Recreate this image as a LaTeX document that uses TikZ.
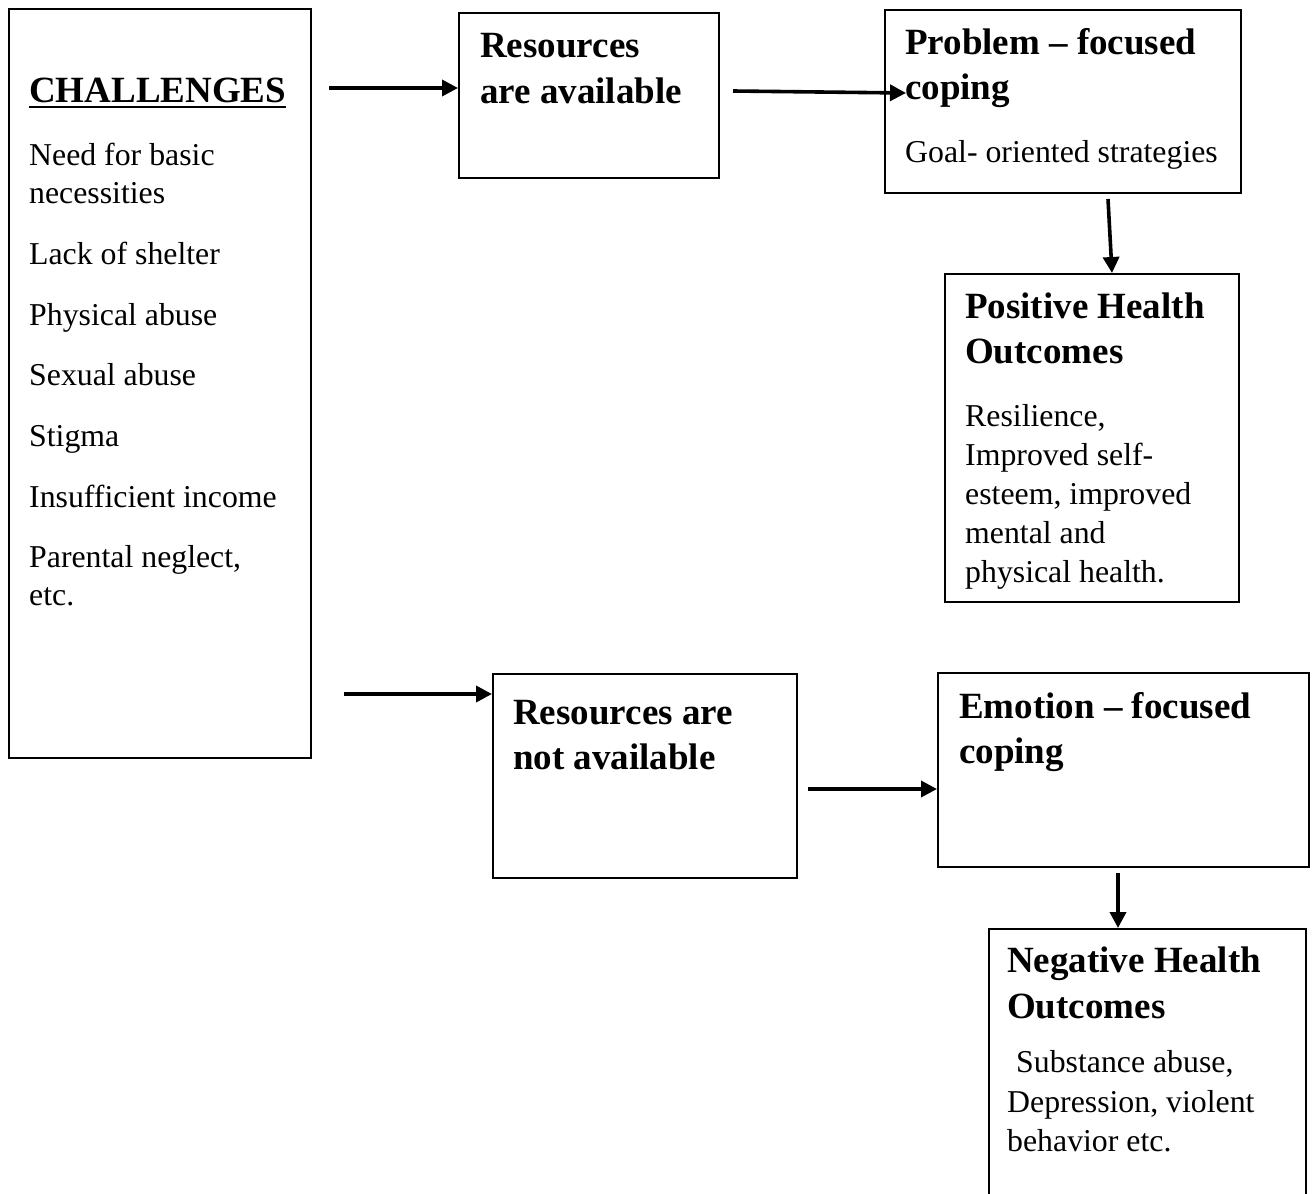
\documentclass[tikz,border=0pt]{standalone}
\usepackage{fontspec}
\setmainfont{Liberation Serif}
\usetikzlibrary{arrows.meta}
\begin{document}
\begin{tikzpicture}[x=1pt,y=-1pt,
  box/.style={draw,line width=2.4pt,anchor=north west,inner sep=0pt},
  body/.style={anchor=base west,inner sep=0pt,font=\fontsize{31.8}{38}\selectfont},
  head/.style={anchor=base west,inner sep=0pt,font=\fontsize{37}{45}\selectfont\bfseries},
  arr/.style={line width=3.6pt,-{Triangle[length=16pt,width=16pt]}}]
\useasboundingbox (0,0) rectangle (1312,1194);
\fill[white] (0,0) rectangle (1312,1194);
% boxes
\node[box,minimum width=302pt,minimum height=749pt] (chal) at (8,8) {};
\node[box,minimum width=260pt,minimum height=165pt] (resA) at (458,12) {};
\node[box,minimum width=356pt,minimum height=183pt] (prob) at (884,9) {};
\node[box,minimum width=294pt,minimum height=328pt] (pos) at (944,273) {};
\node[box,minimum width=304pt,minimum height=204pt] (resN) at (492,673) {};
\node[box,minimum width=371pt,minimum height=194pt] (emo) at (937,672) {};
\node[box,minimum width=317pt,minimum height=302pt] (neg) at (988,928) {};
% challenges text
\node[head] (chh) at (29,102) {CHALLENGES};
\draw[line width=2.4pt] ([yshift=-5pt]chh.base west) -- ([yshift=-5pt]chh.base east);
\node[body] (c1) at (29,165) {Need for basic};
\node[body] (c2) at (29,203) {necessities};
\node[body] (c3) at (29,264) {Lack of shelter};
\node[body] (c4) at (29,325) {Physical abuse};
\node[body] (c5) at (29,385) {Sexual abuse};
\node[body] (c6) at (29,446) {Stigma};
\node[body] (c7) at (29,507) {Insufficient income};
\node[body] (c8) at (29,567) {Parental neglect,};
\node[body] (c9) at (29,605) {etc.};
% resources available
\node[head] (ra1) at (480,57) {Resources};
\node[head] (ra2) at (480,103) {are available};
% problem focused
\node[head] (p1) at (905,54) {Problem -- focused};
\node[head] (p2) at (905,99) {coping};
\node[body] (p3) at (905,162) {Goal- oriented strategies};
% positive
\node[head] (po1) at (965,318) {Positive Health};
\node[head] (po2) at (965,363) {Outcomes};
\node[body] (po3) at (965,426) {Resilience,};
\node[body] (po4) at (965,465) {Improved self-};
\node[body] (po5) at (965,504) {esteem, improved};
\node[body] (po6) at (965,543) {mental and};
\node[body] (po7) at (965,582) {physical health.};
% resources not available
\node[head] (rn1) at (513,724) {Resources are};
\node[head] (rn2) at (513,769) {not available};
% emotion focused
\node[head] (e1) at (959,718) {Emotion -- focused};
\node[head] (e2) at (959,763) {coping};
% negative
\node[head] (n1) at (1007,972) {Negative Health};
\node[head] (n2) at (1007,1018) {Outcomes};
\node[body] (n3) at (1016,1072) {Substance abuse,};
\node[body] (n4) at (1007,1112) {Depression, violent};
\node[body] (n5) at (1007,1151) {behavior etc.};
% arrows
\coordinate (a1s) at (329,88);
\draw[arr] (a1s) -- (a1s -| resA.west);
\coordinate (a2s) at (733,91);
\coordinate (a2e) at (906,93);
\draw[arr] (a2s) -- (a2e);
\coordinate (a3s) at (1108,199);
\coordinate (a3x) at (1112,0);
\draw[arr] (a3s) -- (a3x |- pos.north);
\coordinate (a4s) at (344,694);
\draw[arr] (a4s) -- (a4s -| resN.west);
\coordinate (a5s) at (808,789);
\draw[arr] (a5s) -- (a5s -| emo.west);
\coordinate (a6s) at (1118,873);
\draw[arr] (a6s) -- (a6s |- neg.north);
\end{tikzpicture}
\end{document}
